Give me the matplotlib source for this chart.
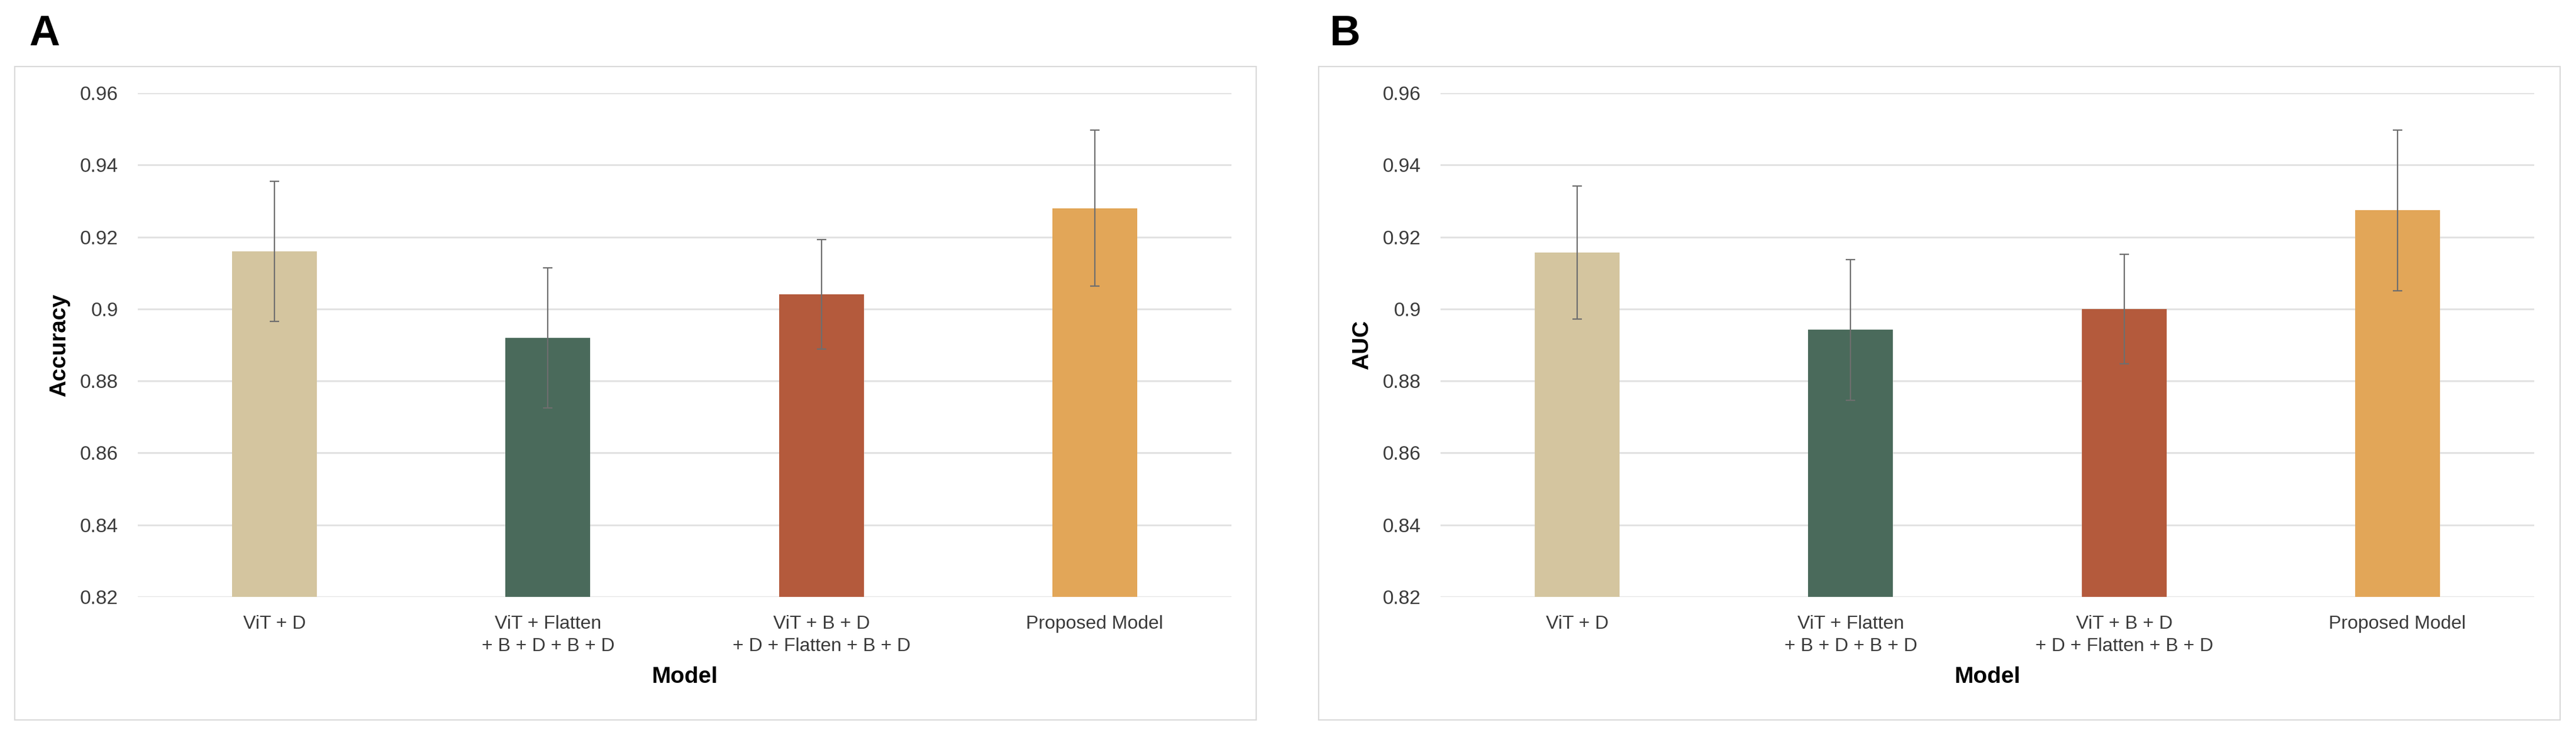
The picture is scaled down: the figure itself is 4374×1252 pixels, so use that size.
import matplotlib
matplotlib.use("Agg")
import matplotlib.pyplot as plt
from matplotlib.patches import Rectangle

plt.rcParams['font.family'] = ['Liberation Sans', 'DejaVu Sans']

# data
models = ["ViT + D", "ViT + Flatten\n+ B + D + B + D",
          "ViT + B + D\n+ D + Flatten + B + D", "Proposed Model"]
accuracy = [0.916, 0.892, 0.904, 0.928]
accuracy_err = [0.0195, 0.0195, 0.0152, 0.0217]
auc = [0.9157, 0.8942, 0.900, 0.9274]
auc_err = [0.0185, 0.0195, 0.0152, 0.0223]
bar_colors = ["#D4C59F", "#4A6A5B", "#B45A3C", "#E2A658"]
yticks = [0.82, 0.84, 0.86, 0.88, 0.90, 0.92, 0.94, 0.96]
ytick_labels = ["0.82", "0.84", "0.86", "0.88", "0.9", "0.92", "0.94", "0.96"]

W, H = 4374, 1252
fig = plt.figure(figsize=(W / 100, H / 100), dpi=100)

# light frame around each panel
for fx in (25, 2239):
    fig.patches.append(Rectangle((fx / W, 29 / H), 2108 / W, 1110 / H,
                                 transform=fig.transFigure, fill=False,
                                 edgecolor="#d9d9d9", linewidth=1.5))

panels = [
    (234, "A", 49, "Accuracy", accuracy, accuracy_err),
    (2446, "B", 2257, "AUC", auc, auc_err),
]

for left, letter, lx, ylabel, vals, errs in panels:
    ax = fig.add_axes([left / W, 238 / H, 1857 / W, 856 / H])
    x = range(len(models))
    ax.bar(x, vals, width=0.31, color=bar_colors, zorder=2)
    ax.errorbar(x, vals, yerr=errs, fmt="none", ecolor="#6e6e6e",
                elinewidth=1.6, capsize=6, capthick=1.6, zorder=3)
    ax.set_xlim(-0.5, 3.5)
    ax.set_ylim(0.82, 0.96)
    ax.set_yticks(yticks)
    ax.set_yticklabels(ytick_labels)
    ax.set_xticks(list(x))
    ax.set_xticklabels(models, linespacing=1.35)
    ax.grid(axis="y", color="#e2e2e2", linewidth=2.2, zorder=0)
    ax.set_axisbelow(True)
    for s in ax.spines.values():
        s.set_visible(False)
    ax.tick_params(axis="y", length=0, pad=24, labelsize=24, labelcolor="#3a3a3a")
    ax.tick_params(axis="x", length=0, pad=22, labelsize=23, labelcolor="#3a3a3a")
    ax.set_xlabel("Model", fontsize=28, fontweight="bold", labelpad=14)
    ax.set_ylabel(ylabel, fontsize=28, fontweight="bold", labelpad=12)
    fig.text(lx / W, 1 - 77 / H, letter, fontsize=52, fontweight="bold",
             va="baseline", ha="left")

fig.savefig("out.png", dpi=100, facecolor="white")
